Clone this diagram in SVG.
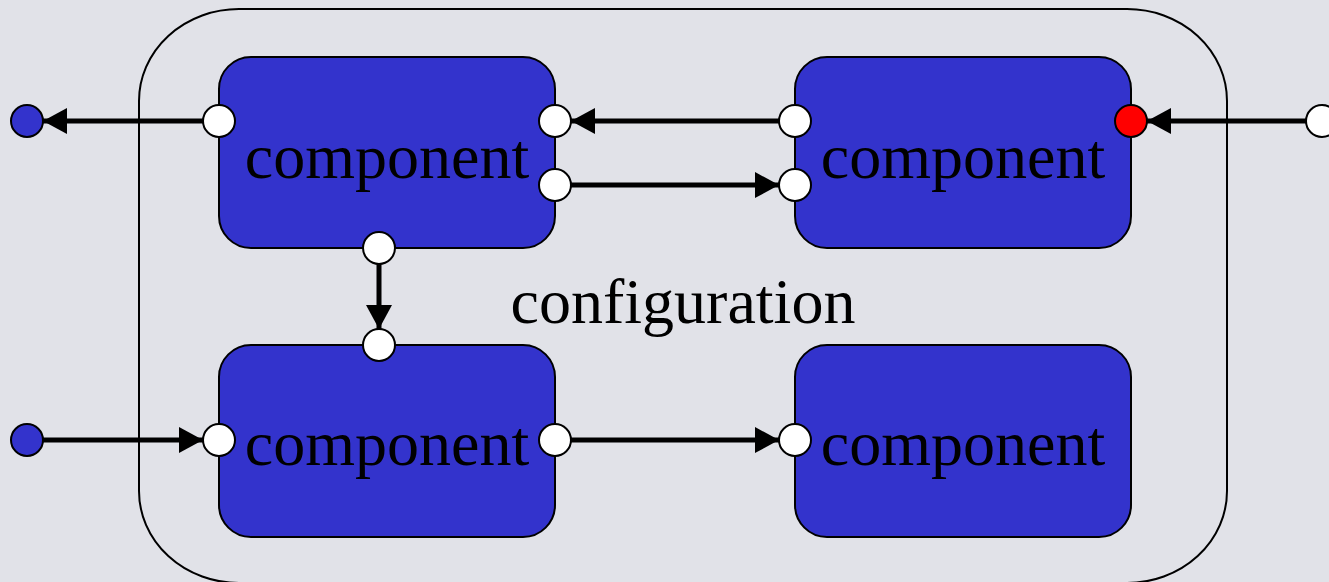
<svg xmlns="http://www.w3.org/2000/svg" width="1329" height="582" viewBox="0 0 1329 582">
<defs>
<marker id="ah" markerWidth="24" markerHeight="26" refX="24" refY="13" orient="auto" markerUnits="userSpaceOnUse">
<path d="M0,0 L24,13 L0,26 Z" fill="#000"/>
</marker>
<style>
.comp{fill:#3333cc;stroke:#000;stroke-width:2}
.port{fill:#fff;stroke:#000;stroke-width:2}
.ext{fill:#3333cc;stroke:#000;stroke-width:2}
.red{fill:#ff0000;stroke:#000;stroke-width:2}
.lbl{font-family:"Liberation Serif","Times New Roman",serif;font-size:64px;fill:#000;text-anchor:middle}
.conn line{stroke:#000;stroke-width:5;marker-end:url(#ah)}
</style>
</defs>
<rect x="0" y="0" width="1329" height="582" fill="#e1e2e8"/>
<g id="configuration">
<path d="M239,9 H1127 A100,92 0 0 1 1227,101 V491 A100,92 0 0 1 1127,583 H239 A100,92 0 0 1 139,491 V101 A100,92 0 0 1 239,9 Z" fill="none" stroke="#000" stroke-width="2"/>
<text class="lbl" x="683" y="323">configuration</text>
</g>
<g id="comp-tl">
<rect class="comp" x="219" y="57" width="336" height="191" rx="32" ry="32"/>
<text class="lbl" x="387" y="178">component</text>
</g>
<g id="comp-tr">
<rect class="comp" x="795" y="57" width="336" height="191" rx="32" ry="32"/>
<text class="lbl" x="963" y="178">component</text>
</g>
<g id="comp-bl">
<rect class="comp" x="219" y="345" width="336" height="192" rx="32" ry="32"/>
<text class="lbl" x="387" y="465">component</text>
</g>
<g id="comp-br">
<rect class="comp" x="795" y="345" width="336" height="192" rx="32" ry="32"/>
<text class="lbl" x="963" y="465">component</text>
</g>
<g id="connectors" class="conn">
<line x1="203" y1="121" x2="43" y2="121"/>
<line x1="779" y1="121" x2="571" y2="121"/>
<line x1="571" y1="185" x2="779" y2="185"/>
<line x1="1306" y1="121" x2="1147" y2="121"/>
<line x1="379" y1="264" x2="379" y2="329"/>
<line x1="43" y1="440" x2="203" y2="440"/>
<line x1="571" y1="440" x2="779" y2="440"/>
</g>
<g id="ports">
<circle class="ext" cx="27" cy="121" r="16"/>
<circle class="ext" cx="27" cy="440" r="16"/>
<circle class="port" cx="1322" cy="121" r="16"/>
<circle class="port" cx="219" cy="121" r="16"/>
<circle class="port" cx="555" cy="121" r="16"/>
<circle class="port" cx="555" cy="185" r="16"/>
<circle class="port" cx="379" cy="248" r="16"/>
<circle class="port" cx="795" cy="121" r="16"/>
<circle class="port" cx="795" cy="185" r="16"/>
<circle class="red" cx="1131" cy="121" r="16"/>
<circle class="port" cx="379" cy="345" r="16"/>
<circle class="port" cx="219" cy="440" r="16"/>
<circle class="port" cx="555" cy="440" r="16"/>
<circle class="port" cx="795" cy="440" r="16"/>
</g>
</svg>
